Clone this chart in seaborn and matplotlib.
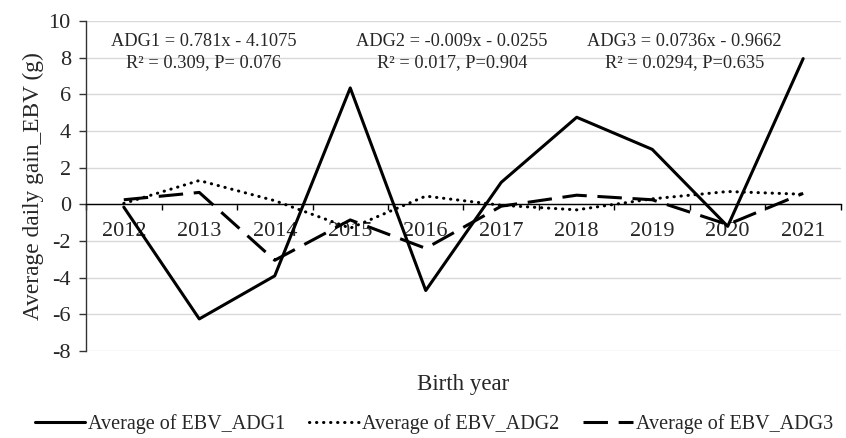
import pandas as pd
import matplotlib.pyplot as plt
import seaborn as sns
from matplotlib.ticker import FixedLocator

years = [2012, 2013, 2014, 2015, 2016, 2017, 2018, 2019, 2020, 2021]
adg1 = [-0.15, -6.25, -3.9, 6.35, -4.7, 1.2, 4.75, 3.0, -1.2, 7.95]
adg2 = [0.05, 1.3, 0.2, -1.3, 0.45, -0.05, -0.3, 0.3, 0.7, 0.55]
adg3 = [0.25, 0.65, -3.05, -0.85, -2.4, -0.1, 0.5, 0.25, -1.1, 0.6]
series_names = ["Average of EBV_ADG1", "Average of EBV_ADG2", "Average of EBV_ADG3"]
equations = [
    "ADG1 = 0.781x - 4.1075\nR² = 0.309, P= 0.076",
    "ADG2 = -0.009x - 0.0255\nR² = 0.017, P=0.904",
    "ADG3 = 0.0736x - 0.9662\nR² = 0.0294, P=0.635",
]
eq_x = [2013.06, 2016.35, 2019.43]

sns.set_theme(style="white")
plt.rcParams["font.family"] = ["Liberation Serif", "DejaVu Serif"]
plt.rcParams["axes.unicode_minus"] = False

df = pd.DataFrame({
    "year": years * 3,
    "value": adg1 + adg2 + adg3,
    "series": [s for s in series_names for _ in years],
})

fig = plt.figure(figsize=(8.46, 4.38), dpi=100)
ax = fig.add_axes([0.1017, 0.1986, 0.8923, 0.7534])

sns.lineplot(data=df, x="year", y="value", hue="series", style="series",
             palette=["black"] * 3, dashes=["", (0.1, 2.2), (8, 3.5)],
             linewidth=2.2, legend=False, ax=ax)

lines = ax.get_lines()[:3]
lines[1].set_dash_capstyle("round")
lines[2].set_dash_capstyle("butt")

ax.set_xlim(2011.5, 2021.5)
ax.set_ylim(-8, 10)
ax.set_yticks(range(-8, 11, 2))
ax.yaxis.grid(True, color="#d9d9d9", linewidth=1)
ax.set_axisbelow(True)

ax.set_xticks(years)
ax.set_xticklabels([str(y) for y in years])
ax.xaxis.set_minor_locator(FixedLocator([y + 0.5 for y in [2011] + years]))

for side in ["top", "right"]:
    ax.spines[side].set_visible(False)
ax.spines["bottom"].set_position(("data", 0))
ax.spines["bottom"].set_color("black")
ax.spines["bottom"].set_linewidth(1)
ax.spines["left"].set_color("#333333")
ax.spines["left"].set_linewidth(1)

ax.tick_params(axis="x", which="major", length=0, pad=13, labelsize=16)
ax.tick_params(axis="x", which="minor", length=4, width=1, direction="out", color="black", bottom=True)
ax.tick_params(axis="y", length=5, width=1, pad=6, labelsize=16, left=True, color="#333333")

ax.set_xlabel("Birth year", fontsize=16.5)
ax.xaxis.set_label_coords(0.5, -0.07)
ax.set_ylabel("Average daily gain_EBV (g)", fontsize=16.8, labelpad=3)

for x, txt in zip(eq_x, equations):
    ax.text(x, 8.3, txt, ha="center", va="center", fontsize=13.2, linespacing=1.3)

fig.legend(lines, series_names, loc="center", bbox_to_anchor=(0.513, 0.032), ncol=3,
           frameon=False, fontsize=14.5, handlelength=2.5, handletextpad=0.15,
           columnspacing=1.15)

fig.savefig("out.png", dpi=100)
